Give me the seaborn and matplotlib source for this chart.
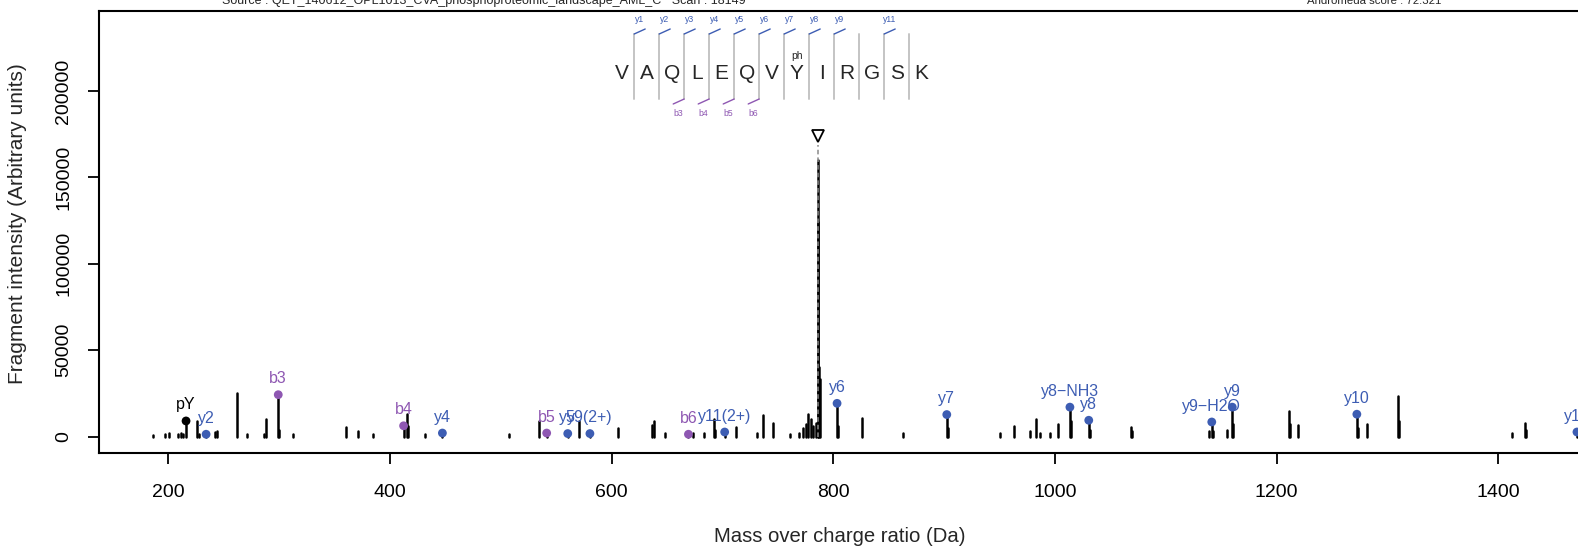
"""MS/MS spectrum of VAQLEQVpYIRGSK, redrawn with seaborn/matplotlib."""

import matplotlib
matplotlib.use("Agg")
import matplotlib.pyplot as plt
from matplotlib.lines import Line2D
import pandas as pd
import seaborn as sns

W, H = 1578, 550

SOURCE_TEXT = "Source : QET_140612_OPL1013_CVA_phosphoproteomic_landscape_AML_C   Scan : 18149"
SCORE_TEXT = "Andromeda score : 72.321"

# peptide ladder
SEQUENCE = list("VAQLEQVYIRGSK")
PHOSPHO_SITE = 7          # index of the modified residue (Y)
Y_LADDER = [1, 2, 3, 4, 5, 6, 7, 8, 9, 11]
B_LADDER = [3, 4, 5, 6]

# precursor
PRECURSOR_MZ = 786.0
PRECURSOR_MARK = 174000

# unannotated peaks
peak_mz = [185.9, 197.0, 200.6, 209.0, 211.5, 213.5, 225.6, 228.0, 242.1, 244.2,
           261.7, 270.7, 286.3, 288.2, 300.2, 312.8, 360.3, 371.4, 384.4, 415.1,
           416.1, 431.6, 507.7, 534.8, 570.6, 606.0, 636.4, 638.2, 648.2, 673.7,
           683.6, 692.6, 693.6, 712.2, 730.9, 736.9, 745.9, 761.0, 769.4, 773.0,
           775.4, 777.5, 779.6, 782.0, 784.0, 786.0, 786.4, 786.9, 788.1, 804.4,
           825.6, 863.2, 903.4, 950.4, 963.1, 977.5, 982.9, 986.5, 995.5, 1003.0,
           1014.5, 1031.5, 1068.3, 1069.3, 1139.3, 1142.5, 1155.0, 1161.0, 1211.2, 1212.2,
           1219.6, 1273.6, 1281.8, 1309.8, 1310.8, 1412.1, 1424.2, 1425.2]
peak_int = [900, 1700, 2000, 1700, 2200, 1700, 8700, 1200, 2800, 3400,
            25300, 1200, 1700, 10300, 4000, 1700, 5600, 3000, 1500, 13200,
            6000, 1700, 1700, 8900, 8900, 5000, 6400, 8900, 2300, 2300,
            2000, 9900, 4000, 5600, 2000, 12200, 7900, 1700, 2300, 5000,
            7000, 12800, 9900, 6000, 8000, 160000, 124000, 40000, 33000, 6000,
            10800, 2300, 5000, 2300, 6000, 3300, 9900, 2300, 2300, 7400,
            9000, 4000, 5400, 3000, 3300, 3000, 3600, 7000, 14700, 7000,
            6400, 5000, 7400, 23400, 9000, 2000, 7900, 4000]

# annotated fragment ions
ion_labels = ["pY", "y2", "b3", "b4", "y4", "b5", "y5", "y9(2+)", "b6", "y11(2+)",
              "y6", "y7", "y8\u2212NH3", "y8", "y9\u2212H2O", "y9", "y10", "y12"]
ion_mz = [216.0, 234.1, 299.2, 412.3, 447.3, 541.4, 560.4, 580.4, 669.3, 702.0,
          803.4, 902.4, 1013.5, 1030.5, 1141.5, 1160.0, 1272.4, 1471.0]
ion_int = [9000, 1300, 24200, 6200, 2000, 2000, 1700, 1700, 1300, 2600,
           19200, 12700, 17000, 9400, 8400, 17000, 12900, 2600]
ion_type = ["imm", "y", "b", "b", "y", "b", "y", "y", "b", "y",
            "y", "y", "y", "y", "y", "y", "y", "y"]

ION_COLORS = {"imm": "black", "y": "#3D5DB3", "b": "#8E57B2"}
LADDER_GREY = "#C4C4C4"

sns.set_theme(style="ticks")
plt.rcParams["font.family"] = ["Liberation Sans", "DejaVu Sans"]

fig = plt.figure(figsize=(W / 100, H / 100), dpi=100)

# axes placed in pixels: left edge 98.6, bottom 453, top 11, 1.1083 px per Da
xlim = (137.1, 1520.0)
px_per_da = 1.1083
ax = fig.add_axes([98.6 / W, (H - 453) / H, (xlim[1] - xlim[0]) * px_per_da / W, 442 / H])
ax.set_xlim(*xlim)
ax.set_ylim(-9551, 246310)

# all peaks as sticks
all_mz = peak_mz + ion_mz
all_int = peak_int + ion_int
sticks = ax.vlines(all_mz, 0, all_int, color="black", lw=1.8, zorder=2)
sticks.set_capstyle("round")

# precursor marker
ax.vlines(PRECURSOR_MZ, 0, PRECURSOR_MARK - 5000, color="#8A8A8A", lw=1.1,
          linestyles=(0, (3, 2)), zorder=3)
ax.plot([PRECURSOR_MZ], [PRECURSOR_MARK], marker="v", ms=8.5, mfc="white",
        mec="black", mew=1.3, zorder=4)

ions = pd.DataFrame({"mz": ion_mz, "intensity": ion_int, "type": ion_type, "label": ion_labels})
sns.scatterplot(data=ions, x="mz", y="intensity", hue="type", palette=ION_COLORS,
                s=40, linewidth=0, legend=False, ax=ax, zorder=5)
for _, r in ions.iterrows():
    ax.annotate(r["label"], (r["mz"], r["intensity"]), xytext=(0, 11.5),
                textcoords="offset points", ha="center", va="center",
                fontsize=11.5, color=ION_COLORS[r["type"]], zorder=6)

ax.set_xticks(range(200, 1401, 200))
ax.set_yticks(range(0, 200001, 50000))
ax.set_yticklabels([str(v) for v in range(0, 200001, 50000)], rotation=90, va="center")
ax.tick_params(axis="both", labelsize=14, length=8, width=1.3, color="black",
               labelcolor="black")
ax.tick_params(axis="x", pad=14)
ax.tick_params(axis="y", pad=11)
for sp in ax.spines.values():
    sp.set_linewidth(1.5)
    sp.set_color("black")
ax.set_xlabel("")
ax.set_ylabel("")

fig.text(18 / W, 1 - 224 / H, "Fragment intensity (Arbitrary units)", rotation=90,
         ha="center", va="center", fontsize=15)
fig.text(840 / W, 1 - 537 / H, "Mass over charge ratio (Da)", ha="center",
         va="center", fontsize=14.6)
fig.text(484 / W, 1 - 1 / H, SOURCE_TEXT, ha="center", va="center", fontsize=9)
fig.text(1374 / W, 1 - 1 / H, SCORE_TEXT, ha="center", va="center", fontsize=8.2)


# sequence ladder, laid out in figure pixels
def fpx(x, y):
    return x / W, 1 - y / H


x0, step = 621.7, 25.0
for i, aa in enumerate(SEQUENCE):
    fig.text(*fpx(x0 + i * step, 73.5), aa, ha="center", va="center", fontsize=15)
fig.text(*fpx(x0 + PHOSPHO_SITE * step, 56), "ph", ha="center", va="center", fontsize=7.5)

for k in range(1, len(SEQUENCE)):
    sx = x0 + (k - 0.5) * step
    xs, ys = zip(fpx(sx, 34), fpx(sx, 99))
    fig.add_artist(Line2D(xs, ys, color=LADDER_GREY, lw=1.4, transform=fig.transFigure))
    if k in Y_LADDER:
        xs, ys = zip(fpx(sx, 34), fpx(sx + 11, 29))
        fig.add_artist(Line2D(xs, ys, color=ION_COLORS["y"], lw=1.0, transform=fig.transFigure))
        fig.text(*fpx(sx + 5.5, 19.5), f"y{k}", ha="center", va="center", fontsize=6.2,
                 color=ION_COLORS["y"])
    if k in B_LADDER:
        xs, ys = zip(fpx(sx, 99), fpx(sx - 11, 104))
        fig.add_artist(Line2D(xs, ys, color=ION_COLORS["b"], lw=1.0, transform=fig.transFigure))
        fig.text(*fpx(sx - 6, 113.5), f"b{k}", ha="center", va="center", fontsize=6.2,
                 color=ION_COLORS["b"])

fig.savefig("out.png", dpi=100)
plt.close(fig)
